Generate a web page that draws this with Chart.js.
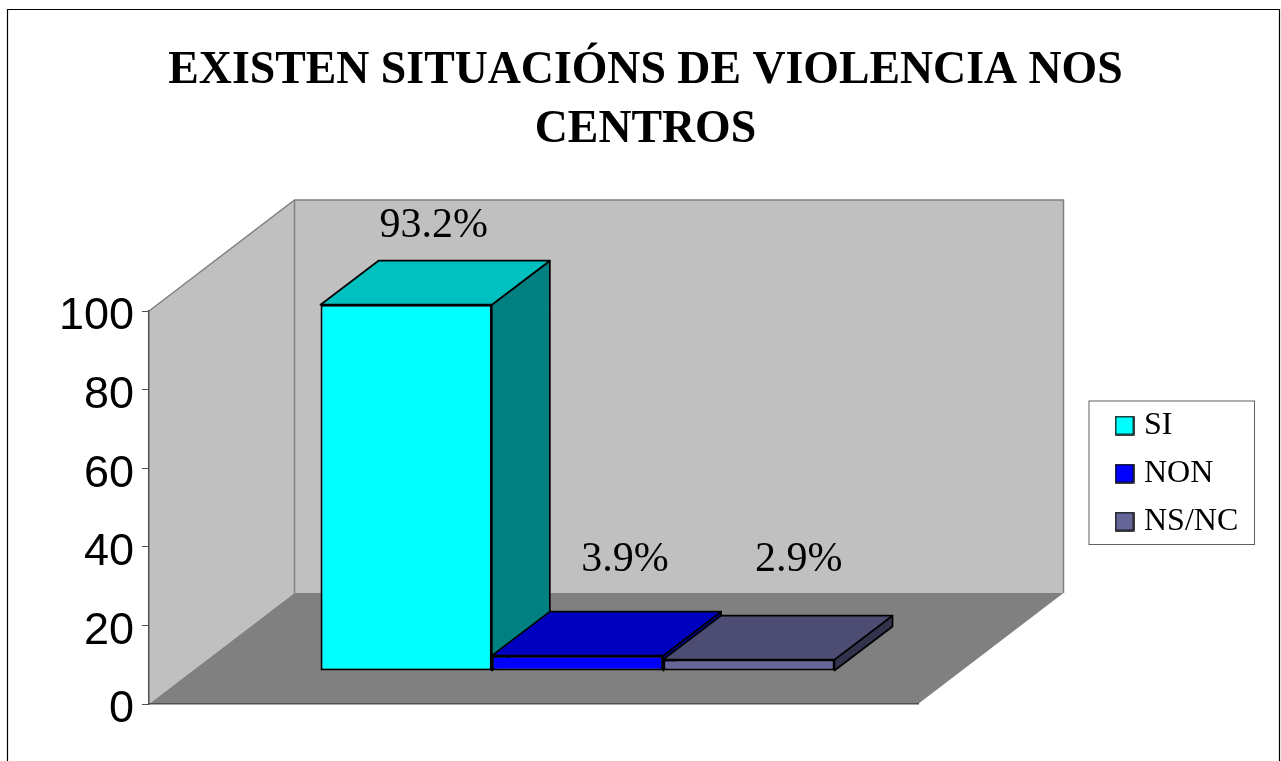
<!DOCTYPE html>
<html><head><meta charset="utf-8">
<style>html,body{margin:0;padding:0;background:#fff;overflow:hidden}canvas{display:block}</style>
<script src="https://cdn.jsdelivr.net/npm/chart.js@4"></script>
</head><body><canvas id="c" width="1281" height="761"></canvas>
<script>
const categories = [""];
const seriesNames = ["SI", "NON", "NS/NC"];
const siValues = [93.2];
const nonValues = [3.9];
const nsncValues = [2.9];
const valueLabels = ["93.2%", "3.9%", "2.9%"];
const frontColors = ["#00FFFF", "#0000FF", "#666699"];
const topColors = ["#00C0C0", "#0000C0", "#4D4D73"];
const sideColors = ["#008080", "#000080", "#33334D"];
const titleLines = ["EXISTEN SITUACIÓNS DE VIOLENCIA NOS", "CENTROS"];

const SERIF = '"Liberation Serif","Times New Roman",serif';
const SANS = '"Liberation Sans",Arial,sans-serif';
const roomDepth = {x: 145.5, y: 111};
const barShift = {x: 44, y: 33};
const barDepth = {x: 58, y: 44};
const labelOffsets = [{x: 27.5, y: -78.5}, {x: 47.5, y: -95.5}, {x: 50, y: -99.5}];
const frameRect = {l: 7.5, t: 9.5, r: 1279.5};
const legendRect = {l: 1089, t: 401, r: 1254.5, b: 544.5};

function poly(ctx, pts, fill, stroke, lw) {
  ctx.beginPath();
  pts.forEach((p, i) => i ? ctx.lineTo(p[0], p[1]) : ctx.moveTo(p[0], p[1]));
  ctx.closePath();
  if (fill) { ctx.fillStyle = fill; ctx.fill(); }
  if (stroke) { ctx.strokeStyle = stroke; ctx.lineWidth = lw; ctx.lineJoin = 'round'; ctx.stroke(); }
}
function swatch(color) {
  const s = document.createElement('canvas');
  s.width = 20; s.height = 20;
  const g = s.getContext('2d');
  g.fillStyle = color; g.fillRect(1, 1, 18, 18);
  g.strokeStyle = '#000'; g.lineWidth = 1.5; g.strokeRect(1, 1, 18, 18);
  return s;
}

const scene3d = {
  id: 'scene3d',
  afterLayout(chart) {
    const lg = chart.legend, tb = chart.titleBlock;
    lg.left = 1105; lg.right = lg.left + 160; lg.top = 393.5; lg.bottom = lg.top + 220;
    tb.left = 0; tb.right = 1291;
  },
  beforeDraw(chart) {
    const {ctx, chartArea: a} = chart, d = roomDepth;
    ctx.save();
    ctx.fillStyle = '#fff'; ctx.fillRect(0, 0, chart.width, chart.height);
    ctx.strokeStyle = '#000'; ctx.lineWidth = 1.2;
    ctx.beginPath();
    ctx.moveTo(frameRect.l, chart.height); ctx.lineTo(frameRect.l, frameRect.t);
    ctx.lineTo(frameRect.r, frameRect.t); ctx.lineTo(frameRect.r, chart.height);
    ctx.stroke();
    poly(ctx, [[a.left, a.top], [a.left + d.x, a.top - d.y], [a.left + d.x, a.bottom - d.y], [a.left, a.bottom]], '#C0C0C0');
    poly(ctx, [[a.left + d.x, a.top - d.y], [a.right + d.x, a.top - d.y], [a.right + d.x, a.bottom - d.y], [a.left + d.x, a.bottom - d.y]], '#C0C0C0');
    poly(ctx, [[a.left, a.bottom], [a.right, a.bottom], [a.right + d.x, a.bottom - d.y], [a.left + d.x, a.bottom - d.y]], '#808080');
    ctx.strokeStyle = '#808080'; ctx.lineWidth = 1.5;
    ctx.beginPath();
    ctx.moveTo(a.left, a.top); ctx.lineTo(a.left + d.x, a.top - d.y);
    ctx.lineTo(a.right + d.x, a.top - d.y); ctx.lineTo(a.right + d.x, a.bottom - d.y);
    ctx.moveTo(a.left + d.x, a.top - d.y); ctx.lineTo(a.left + d.x, a.bottom - d.y);
    ctx.stroke();
    ctx.fillStyle = '#fff'; ctx.strokeStyle = '#606060'; ctx.lineWidth = 1;
    ctx.fillRect(legendRect.l, legendRect.t, legendRect.r - legendRect.l, legendRect.b - legendRect.t);
    ctx.strokeRect(legendRect.l, legendRect.t, legendRect.r - legendRect.l, legendRect.b - legendRect.t);
    ctx.restore();
  },
  // Bars must overlap left to right, so they are painted together below.
  beforeDatasetDraw() { return false; },
  afterDatasetsDraw(chart) {
    const {ctx} = chart, dp = barDepth;
    chart.data.datasets.forEach((ds, i) => {
      const el = chart.getDatasetMeta(i).data[0];
      const L = el.x - el.width / 2, R = el.x + el.width / 2, T = el.y, B = el.base;
      ctx.save();
      ctx.translate(barShift.x, -barShift.y);
      poly(ctx, [[R, T], [R + dp.x, T - dp.y], [R + dp.x, B - dp.y], [R, B]], sideColors[i], '#000', 1.7);
      poly(ctx, [[L, T], [L + dp.x, T - dp.y], [R + dp.x, T - dp.y], [R, T]], topColors[i], '#000', 1.7);
      el.draw(ctx);
      ctx.restore();
    });
    ctx.save();
    ctx.font = '42px ' + SERIF;
    ctx.fillStyle = '#000';
    ctx.textAlign = 'center';
    ctx.textBaseline = 'middle';
    chart.data.datasets.forEach((ds, i) => {
      const el = chart.getDatasetMeta(i).data[0], o = labelOffsets[i];
      ctx.fillText(valueLabels[i], el.x + barShift.x + o.x, el.y - barShift.y + o.y);
    });
    ctx.restore();
  }
};

const seriesValues = [siValues, nonValues, nsncValues];
new Chart(document.getElementById('c'), {
  type: 'bar',
  data: {
    labels: categories,
    datasets: seriesNames.map((n, i) => ({
      label: n,
      data: seriesValues[i],
      backgroundColor: frontColors[i],
      borderColor: '#000',
      borderWidth: 2,
      borderSkipped: false,
      clip: false,
      barPercentage: 1,
      categoryPercentage: 514 / 769
    }))
  },
  options: {
    responsive: false,
    animation: false,
    events: [],
    layout: {padding: {left: 49, right: 363, top: 0, bottom: 57}},
    scales: {
      x: {
        display: true,
        ticks: {display: false},
        grid: {drawOnChartArea: false, drawTicks: false},
        border: {color: '#505050', width: 1.5}
      },
      y: {
        min: 0, max: 100,
        afterFit(s) { s.width = 100; },
        ticks: {
          stepSize: 20, color: '#000', padding: 8,
          font: {family: SANS, size: 45, lineHeight: 12 / 45},
          callback: v => ["", String(v)]
        },
        grid: {drawOnChartArea: false, tickLength: 7, color: '#505050', tickColor: '#505050'},
        border: {color: '#505050', width: 1.5}
      }
    },
    plugins: {
      tooltip: {enabled: false},
      title: {
        display: true,
        text: titleLines,
        color: '#000',
        font: {family: SERIF, size: 45.8, weight: 'bold', lineHeight: 59 / 45.8},
        padding: {top: 42, bottom: 151}
      },
      legend: {
        display: true,
        position: 'chartArea',
        align: 'start',
        labels: {
          color: '#000',
          font: {family: SERIF, size: 32},
          usePointStyle: true,
          boxWidth: 7,
          boxHeight: 32,
          padding: 16,
          generateLabels: () => seriesNames.map((n, i) => ({
            text: n, pointStyle: swatch(frontColors[i]), fontColor: '#000', datasetIndex: i
          }))
        }
      }
    }
  },
  plugins: [scene3d]
});
</script></body></html>
